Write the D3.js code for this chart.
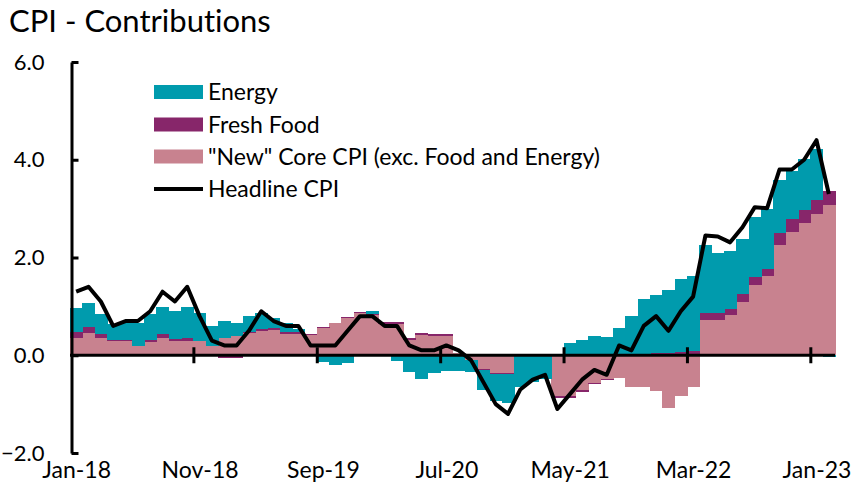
<!DOCTYPE html>
<html><head><meta charset="utf-8">
<script src="https://cdn.jsdelivr.net/npm/d3@7"></script>
<style>
body{margin:0;background:#fff}
svg{display:block}
text{font-family:Lato,"Liberation Sans",sans-serif;fill:#000;font-variant-ligatures:none}
</style>
</head><body>
<svg id="chart" width="853" height="501"></svg>
<script>
// Monthly data, Jan-18 .. Feb-23 (62 months), contributions in % points
const core = [0.36,0.45,0.36,0.29,0.29,0.18,0.28,0.35,0.29,0.29,0.29,0.19,
  0.35,0.39,0.45,0.50,0.52,0.44,0.44,0.42,0.55,0.65,0.76,0.86,
  0.82,0.64,0.64,0.31,0.42,0.40,0.40,0.05,-0.10,-0.29,-0.36,-0.36,
  0.03,0.03,0.03,-0.84,-0.84,-0.72,-0.56,-0.49,-0.46,-0.64,-0.64,-0.74,
  -1.08,-0.83,-0.64,0.72,0.72,0.82,1.08,1.43,1.63,2.25,2.53,2.70,
  2.89,3.07];
const food = [0.12,0.12,0.07,0.02,0.02,0.01,0.03,0.08,0.05,0.07,0.01,0.0,
  -0.05,-0.05,0.03,0.04,0.03,0.03,0.03,0.02,0.02,0.02,0.02,0.03,
  0.02,0.05,0.05,0.05,0.04,0.03,0.03,0.0,0.0,-0.01,-0.02,-0.02,
  0.0,0.0,0.0,-0.04,-0.04,-0.03,-0.02,-0.02,0.0,0.01,0.03,0.05,
  0.05,0.06,0.08,0.15,0.15,0.12,0.17,0.18,0.13,0.25,0.26,0.27,
  0.29,0.29];
const energy = [0.48,0.50,0.41,0.33,0.37,0.48,0.53,0.55,0.57,0.63,0.57,0.41,
  0.35,0.28,0.32,0.33,0.21,0.19,0.06,0.0,-0.14,-0.20,-0.15,0.0,
  0.07,-0.02,-0.12,-0.34,-0.48,-0.37,-0.32,-0.33,-0.25,-0.41,-0.56,-0.60,
  -0.65,-0.55,-0.48,0.0,0.26,0.31,0.40,0.38,0.56,0.80,1.12,1.19,
  1.29,1.50,1.54,1.38,1.23,1.19,1.13,1.21,1.23,1.09,0.99,1.05,
  1.04,-0.03];
const headline = [1.3,1.4,1.1,0.6,0.7,0.7,0.9,1.3,1.1,1.4,0.8,0.3,
  0.2,0.2,0.5,0.9,0.7,0.6,0.6,0.2,0.2,0.2,0.5,0.8,
  0.8,0.6,0.6,0.2,0.1,0.1,0.2,0.1,-0.1,-0.55,-1.0,-1.2,
  -0.7,-0.5,-0.4,-1.1,-0.8,-0.5,-0.3,-0.4,0.2,0.1,0.6,0.8,
  0.5,0.9,1.2,2.45,2.43,2.31,2.62,3.03,3.01,3.8,3.8,4.0,
  4.4,3.3];
const xTickIndex = [0,10,20,30,40,50,60];
const xTickLabels = ["Jan-18","Nov-18","Sep-19","Jul-20","May-21","Mar-22","Jan-23"];
const yTicks = [-2,0,2,4,6];
const legendLabels = ["Energy","Fresh Food","\"New\" Core CPI (exc. Food and Energy)","Headline CPI"];
const title = "CPI - Contributions";

const colors = {core:"#c8828f", food:"#87266a", energy:"#009bad"};

const svg = d3.select("#chart");
const n = core.length;
const x = d3.scaleLinear().domain([0, n]).range([70, 835]);
const y = d3.scaleLinear().domain([-2, 6]).range([453, 62]);

const rows = core.map((c, i) => ({i, core: c, food: food[i], energy: energy[i]}));
const keys = ["core","food","energy"];
const stacked = d3.stack().keys(keys).offset(d3.stackOffsetDiverging)(rows);

const gBars = svg.append("g").attr("shape-rendering","crispEdges");
stacked.forEach(s => {
  gBars.append("g").attr("fill", colors[s.key])
    .selectAll("rect").data(s).join("rect")
    .attr("x", d => x(d.data.i))
    .attr("width", d => x(d.data.i + 1) - x(d.data.i) + 0.6)
    .attr("y", d => y(Math.max(d[0], d[1])))
    .attr("height", d => Math.abs(y(d[0]) - y(d[1])));
});

// zero line
svg.append("line").attr("x1", x(0)).attr("x2", x(n)).attr("y1", y(0)).attr("y2", y(0))
  .attr("stroke","#000").attr("stroke-width",3);

// x ticks crossing the zero line
const xTickAxis = d3.axisBottom(x).tickValues(xTickIndex.slice(1)).tickSize(16).tickFormat("");
svg.append("g").attr("transform", `translate(0,${y(0) - 8})`).call(xTickAxis)
  .call(g => g.select(".domain").remove())
  .call(g => g.selectAll("line").attr("stroke","#000").attr("stroke-width",3));

// x labels at month centres
const xLab = d3.axisBottom(x).tickValues(xTickIndex.map(v => v + 0.5))
  .tickFormat((d, k) => xTickLabels[k]).tickSize(0).tickPadding(0);
svg.append("g").attr("transform","translate(0,462)").call(xLab)
  .call(g => g.select(".domain").remove())
  .call(g => g.selectAll("text").attr("font-size", 23).attr("font-family","Lato").attr("dy","0.71em"));

// y axis
const yAxis = d3.axisLeft(y).tickValues(yTicks).tickFormat(d3.format(".1f"))
  .tickSizeInner(-7).tickSizeOuter(0).tickPadding(27);
svg.append("g").attr("transform","translate(71.5,0)").call(yAxis)
  .call(g => g.select(".domain").attr("stroke","#000").attr("stroke-width",3))
  .call(g => g.selectAll(".tick line").attr("stroke","#000").attr("stroke-width",3))
  .call(g => g.selectAll("text").attr("font-size", 22).attr("font-family","Lato"));

// headline line
const line = d3.line().x((d, i) => x(i + 0.5)).y(d => y(d));
svg.append("path").datum(headline).attr("d", line)
  .attr("fill","none").attr("stroke","#000").attr("stroke-width",4)
  .attr("stroke-linejoin","round");

// title
svg.append("text").attr("x", 9).attr("y", 32).attr("font-size", 31).text(title);

// legend
const lg = svg.append("g").attr("transform","translate(154,0)");
const legendY = [92, 124.5, 156.5, 189];
const legendFill = [colors.energy, colors.food, colors.core];
legendLabels.forEach((t, k) => {
  if (k < 3) {
    lg.append("rect").attr("x",0).attr("y",legendY[k]-7).attr("width",49).attr("height",14)
      .attr("fill", legendFill[k]);
  } else {
    lg.append("line").attr("x1",0).attr("x2",49).attr("y1",legendY[k]).attr("y2",legendY[k])
      .attr("stroke","#000").attr("stroke-width",4);
  }
  lg.append("text").attr("x",54).attr("y",legendY[k]).attr("dy","0.36em")
    .attr("font-size",23).text(t);
});
</script>
</body></html>
